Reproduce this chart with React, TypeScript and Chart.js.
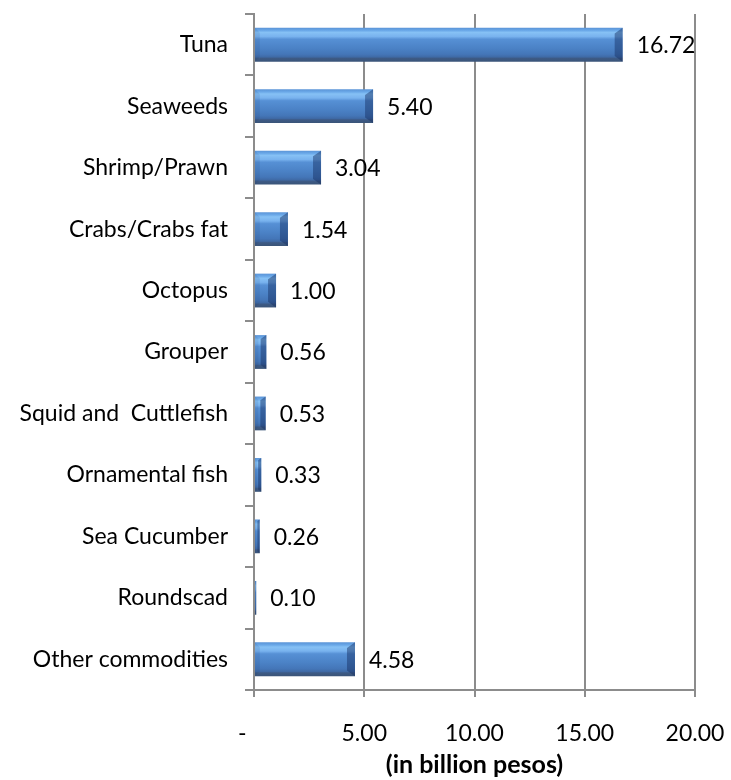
import React, { useEffect, useRef } from 'react';
import { Chart, registerables } from 'chart.js';

Chart.register(...registerables);

const categories = [
  'Tuna',
  'Seaweeds',
  'Shrimp/Prawn',
  'Crabs/Crabs fat',
  'Octopus',
  'Grouper',
  'Squid and  Cuttlefish',
  'Ornamental fish',
  'Sea Cucumber',
  'Roundscad',
  'Other commodities',
];
const values = [16.72, 5.4, 3.04, 1.54, 1.0, 0.56, 0.53, 0.33, 0.26, 0.1, 4.58];
const valueLabels = ['16.72', '5.40', '3.04', '1.54', '1.00', '0.56', '0.53', '0.33', '0.26', '0.10', '4.58'];
const xTickValues = [0, 5, 10, 15, 20];
const xTickLabels = ['-    ', '5.00', '10.00', '15.00', '20.00'];
const axisTitle = '(in billion pesos)';

const FONT = 'Lato, Calibri, Carlito, sans-serif';
const GRID = '#8c8c8c';

const barDecor = {
  id: 'barDecor',
  afterDatasetsDraw(chart: any) {
    const ctx = chart.ctx;
    const meta = chart.getDatasetMeta(0);
    meta.data.forEach((bar: any, i: number) => {
      const p = bar.getProps(['x', 'y', 'base', 'height'], true);
      const x = p.x, y = p.y, base = p.base, h = p.height;
      const top = y - h / 2, bottom = y + h / 2;
      const w = x - base;
      const e = Math.min(8, w / 2);
      ctx.save();
      ctx.beginPath();
      ctx.moveTo(x, top);
      ctx.lineTo(x, bottom);
      ctx.lineTo(x - e, bottom - e * 0.7);
      ctx.lineTo(x - e, top + e * 0.7);
      ctx.closePath();
      ctx.fillStyle = 'rgba(20,45,95,0.45)';
      ctx.fill();
      ctx.beginPath();
      ctx.moveTo(base, top);
      ctx.lineTo(base + e * 0.6, top + e * 0.6);
      ctx.lineTo(base + e * 0.6, bottom - e * 0.6);
      ctx.lineTo(base, bottom);
      ctx.closePath();
      ctx.fillStyle = 'rgba(20,45,95,0.1)';
      ctx.fill();
      ctx.fillStyle = '#000';
      ctx.font = '23px ' + FONT;
      ctx.textAlign = 'left';
      ctx.textBaseline = 'middle';
      ctx.fillText(valueLabels[i], x + 14, y + 1);
      ctx.restore();
    });
  },
};

export default function App() {
  const ref = useRef<HTMLCanvasElement | null>(null);
  useEffect(() => {
    if (!ref.current) return;
    const chart = new Chart(ref.current, {
      type: 'bar',
      data: {
        labels: categories,
        datasets: [
          {
            data: values,
            categoryPercentage: 1,
            barPercentage: 0.55,
            borderWidth: 0,
            backgroundColor: (c: any) => {
              const ch = c.chart;
              const ys = ch.scales && ch.scales.y;
              if (!ys || c.dataIndex === undefined) return '#4f86c9';
              const cy = ys.getPixelForValue(c.dataIndex);
              if (!isFinite(cy)) return '#4f86c9';
              const half = 17;
              const g = ch.ctx.createLinearGradient(0, cy - half, 0, cy + half);
              g.addColorStop(0, '#5a93d6');
              g.addColorStop(0.08, '#6aa8e8');
              g.addColorStop(0.14, '#86c1f5');
              g.addColorStop(0.26, '#78b2ee');
              g.addColorStop(0.34, '#5690d5');
              g.addColorStop(0.6, '#4b82c6');
              g.addColorStop(0.78, '#4476b8');
              g.addColorStop(0.86, '#3f6aa6');
              g.addColorStop(0.9, '#3d5a85');
              g.addColorStop(1, '#3a5478');
              return g;
            },
          },
        ],
      },
      options: {
        indexAxis: 'y',
        animation: false,
        responsive: false,
        devicePixelRatio: 1,
        layout: { padding: { left: 0, right: 36, top: 14, bottom: 0 } },
        plugins: {
          legend: { display: false },
          tooltip: { enabled: false },
          title: { display: false },
        },
        scales: {
          x: {
            type: 'linear',
            min: 0,
            max: 20,
            afterBuildTicks: (s: any) => {
              s.ticks = xTickValues.map((v) => ({ value: v }));
            },
            afterFit: (s: any) => {
              s.height = 90;
              s.paddingLeft = 0;
              s.paddingRight = 0;
            },
            ticks: {
              color: '#000',
              font: { family: FONT, size: 23 },
              padding: 23,
              maxRotation: 0,
              autoSkip: false,
              callback: (v: any) => {
                const idx = xTickValues.indexOf(Number(v));
                return idx >= 0 ? xTickLabels[idx] : '';
              },
            },
            grid: {
              color: GRID,
              lineWidth: 2,
              tickLength: 7,
              drawTicks: true,
            },
            border: { display: true, color: GRID, width: 2 },
            title: {
              display: true,
              text: axisTitle,
              color: '#000',
              font: { family: FONT, size: 25, weight: 'bold' },
              padding: { top: 0, bottom: 0 },
            },
          },
          y: {
            type: 'category',
            offset: true,
            afterFit: (s: any) => {
              s.width = 254;
              s.paddingTop = 0;
              s.paddingBottom = 0;
            },
            ticks: {
              color: '#000',
              font: { family: FONT, size: 23 },
              padding: 17,
              autoSkip: false,
            },
            grid: {
              offset: true,
              drawOnChartArea: false,
              drawTicks: true,
              tickLength: 9,
              color: GRID,
              lineWidth: 2,
            },
            border: { display: true, color: GRID, width: 2 },
          },
        },
      },
      plugins: [barDecor],
    });
    return () => chart.destroy();
  }, []);
  return (
    <div style={{ position: 'fixed', left: 0, top: 0, width: 731, height: 780, background: '#fff' }}>
      <canvas ref={ref} width={731} height={780} style={{ display: 'block', width: 731, height: 780 }} />
    </div>
  );
}
